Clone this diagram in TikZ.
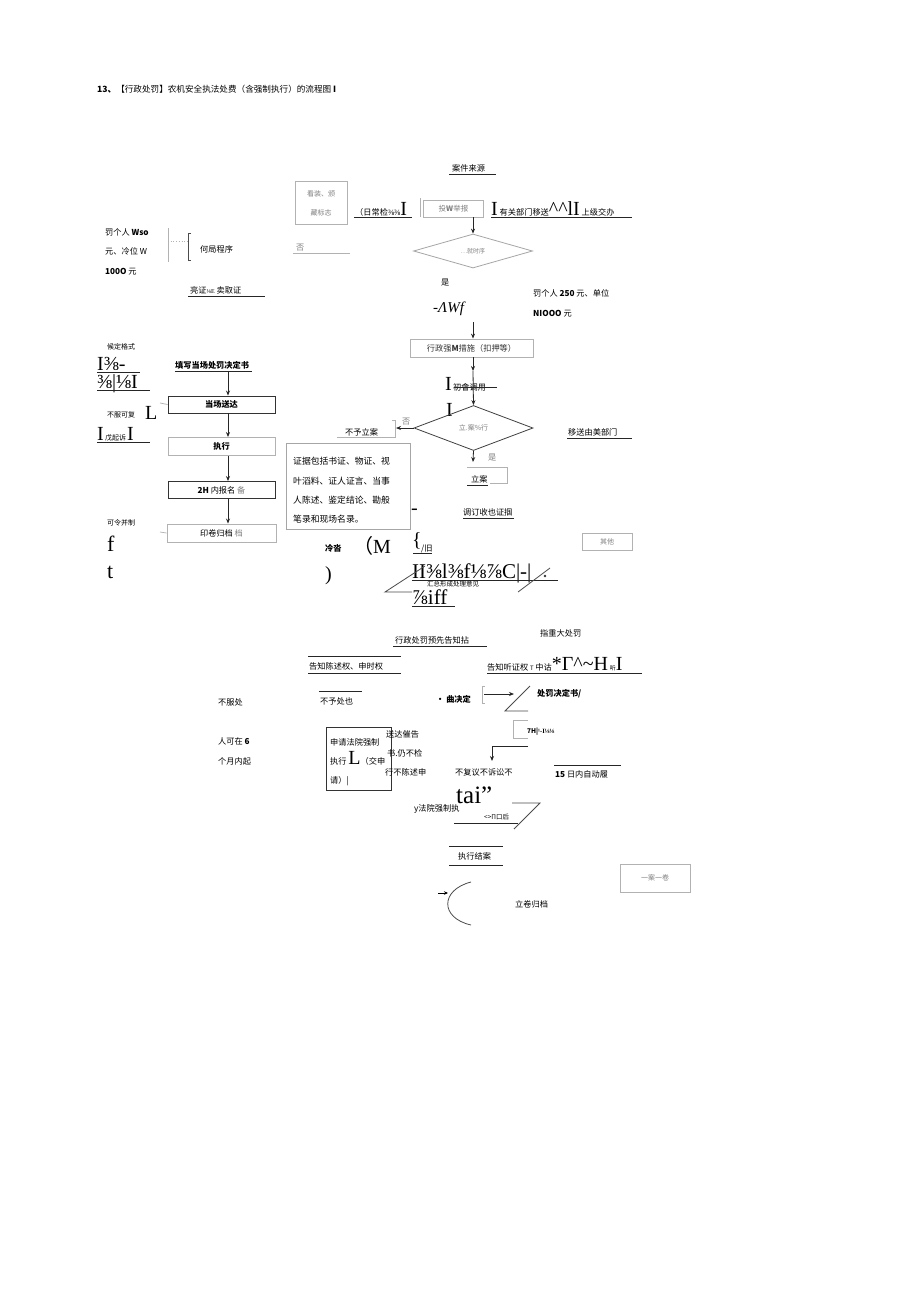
\documentclass[tikz,border=0pt]{standalone}
\usepackage{fontspec}
\setmainfont{Noto Sans CJK SC}
\newfontfamily\ser{Liberation Serif}
\newfontfamily\cjk{Noto Sans CJK SC}
\usetikzlibrary{shapes.geometric,arrows.meta}
\tikzset{
  txt/.style={anchor=base west,inner sep=0pt,font=\fontsize{8.2}{10}\selectfont},
  etxt/.style={anchor=base west,inner sep=0pt,font=\fontsize{8.8}{10}\selectfont},
  stxt/.style={anchor=base west,inner sep=0pt,font=\fontsize{7}{9}\selectfont},
  btxt/.style={anchor=base west,inner sep=0pt,font=\fontsize{8.2}{10}\selectfont\bfseries},
  big/.style={anchor=base west,inner sep=0pt,font=\fontsize{20}{22}\selectfont\ser},
  gbox/.style={draw=gray!60,line width=0.8pt,inner sep=0pt,font=\fontsize{7.5}{10}\selectfont},
  kbox/.style={draw=black!80,line width=0.9pt,inner sep=0pt,font=\fontsize{8.2}{10}\selectfont\bfseries},
  arr/.style={-{Stealth[length=5pt,width=4pt]},line width=0.8pt,black!85},
  uline/.style={line width=0.7pt,black!85},
  gline/.style={line width=0.7pt,gray!60},
}
\newcommand{\bg}[1]{{\fontsize{20}{20}\ser #1}}
\begin{document}
\begin{tikzpicture}[x=1pt,y=-1pt]
\useasboundingbox[fill=white] (0,0) rectangle (920,1301);

% title
\node[txt,font=\fontsize{8.6}{10}\selectfont] (title) at (97,92.5) {\textbf{13、}【行政处罚】农机安全执法处费（含强制执行）的流程图\textbf{ I}};

% top row
\node[txt] (src) at (452,171.5) {案件来源};
\draw[uline] (449,174) -- (496,174);
\node[gbox,minimum width=52,minimum height=43,align=center,text=gray,font=\fontsize{7}{19}\selectfont] (sign) at (321,203) {看装、颁\\藏标志};
\node[txt] (daily) at (355,215) {（日常检{\ser ⅜⅜}\bg{I}};
\draw[uline] (354,217) -- (412,217);
\draw[gline] (420,198) -- (420,217);
\node[gbox,minimum width=60,minimum height=17,text=gray] (tb) at (453.5,208.5) {投\textbf{W}举报};
\node[txt] (yg) at (491,215) {\bg{I}\ 有关部门移送\bg{\textasciicircum\textasciicircum lI}\ 上级交办};
\draw[uline] (491,217) -- (632,217);

\node[diamond,draw=gray!70,line width=0.8pt,minimum width=119,minimum height=34,inner sep=0pt,text=gray,font=\fontsize{6}{7}\selectfont] (d1) at (473,251) {…就时序};
\draw[arr] (tb.south -| d1.north) -- (d1.north);

\node[txt,text=gray] (fou1) at (296,250) {否};
\draw[gline] (293,253) -- (350,253);

\node[txt] (fa1) at (105,235.5) {罚个人 \textbf{Wso}};
\node[txt] (fa2) at (105,254.5) {元、冷位 W};
\node[txt] (fa3) at (105,274.5) {\textbf{100O} 元};
\draw[gline] (168,228) -- (168,262);
\draw[gline,dotted] (168,241) -- (188,241);
\draw[line width=0.9pt,black!70] (191,233) -- (188,233) -- (188,260) -- (191,260);
\node[txt] (hj) at (200,252) {何局程序};
\node[txt] (lz) at (190,293) {亮证{\fontsize{6}{7}\selectfont\ser ⅛E} 卖取证};
\draw[uline] (188,296) -- (265,296);

\node[txt] (shi1) at (441,285.5) {是};
\node[anchor=base west,inner sep=0pt,font=\fontsize{15}{16}\selectfont\ser\itshape] (aw) at (433,312) {-ΛWf};
\node[txt] (fa4) at (533,296.5) {罚个人 \textbf{250} 元、单位};
\node[txt] (fa5) at (533,316.5) {\textbf{NIOOO} 元};

\coordinate (c1) at (473,322);
\node[gbox,minimum width=123,minimum height=18,font=\fontsize{8.2}{10}\selectfont,text=black!80] (qz) at (471.5,348) {行政强\textbf{M}措施（扣押等）};
\draw[arr] (c1) -- (c1 |- qz.north);
\coordinate (c2) at (473,371);
\draw[arr] (qz.south -| c2) -- (c2);
\node[txt] (cs) at (445,390) {\bg{I}\,初會调用};
\draw[uline] (456,387) -- (497,387);
\node[big] (bi2) at (446,416) {I};

\node[diamond,draw=black!75,line width=0.8pt,minimum width=119,minimum height=45,inner sep=0pt,text=gray,font=\fontsize{7}{8}\selectfont] (d2) at (473.5,428) {立.案\%行};
\draw[arr] (c2) -- (d2.north);
\coordinate (c3) at (396,428);
\draw[arr] (d2.west) -- (c3);
\node[txt,text=gray] (fou2) at (402,424) {否};
\draw[gline] (392,420) -- (395,420) -- (395,437) -- (337,437);
\node[txt] (bylz) at (345,435.5) {不予立案};
\node[txt] (ys) at (568,435.5) {移送由美部门};
\draw[uline] (567,438) -- (632,438);

\coordinate (c4) at (473,462);
\draw[arr] (d2.south) -- (c4);
\node[txt,text=gray] (shi2) at (488,460) {是};
\draw[gline] (467,467) -- (507,467) -- (507,483) -- (490,483);
\node[txt] (la) at (471,482) {立案};
\draw[uline] (467,485) -- (488,485);

% evidence box
\node[draw=gray!70,line width=0.8pt,minimum width=124,minimum height=86,inner sep=0pt] (eb) at (348,486) {};
\node[etxt] (e1) at (293,464.5) {证据包括书证、物证、视};
\node[etxt] (e2) at (293,484) {叶滔料、证人证言、当事};
\node[etxt] (e3) at (293,503.5) {人陈述、鉴定结论、勘般};
\node[etxt] (e4) at (293,522.5) {笔录和现场名录。};

\node[big] (dash) at (411,514) {-};
\node[txt] (dc) at (463,515.5) {调订收也证掴};
\draw[uline] (463,518) -- (514,518);

\node[big] (brace) at (412,546) {\{};
\node[txt] (jiu) at (421,551) {/旧};
\draw[uline] (413,553) -- (432,553);
\node[btxt] (lc) at (325,551.5) {冷沓};
\node[big] (pm) at (353,553) {{\cjk （}M};
\node[big] (rp) at (325,580) {)};
\node[anchor=base west,inner sep=0pt,font=\fontsize{21}{22}\selectfont\ser] (garb) at (412,578) {II⅜l⅜f⅛⅞C|-|};
\draw[uline] (412,580) -- (558,580);
\node[anchor=base west,inner sep=0pt,font=\fontsize{6.5}{7}\selectfont] (hz) at (427,586) {汇总形成处理意见};
\node[anchor=base west,inner sep=0pt,font=\fontsize{21}{22}\selectfont\ser] (iff) at (412,604) {⅞iff};
\draw[uline] (412,606) -- (455,606);
\draw[line width=0.8pt,black!70] (425,566) -- (385,592) -- (412,592);
\draw[line width=0.8pt,black!70] (518,592) -- (550,568);
\fill[black!80] (545,576) circle (1.3);
\node[gbox,minimum width=50,minimum height=17,text=gray,font=\fontsize{7}{8}\selectfont] (qt) at (607,541.5) {其他};

% left column
\node[stxt] (hd) at (107,349.5) {候定格式};
\node[big] (g1) at (97,370) {I⅜-};
\draw[uline] (97,372) -- (140,372);
\node[big] (g2) at (97,388) {⅜|⅛I};
\draw[uline] (97,390) -- (150,390);
\node[stxt] (bf) at (107,417.5) {不服可复};
\node[big] (gL) at (145,419) {L};
\node[stxt] (qs) at (97,440) {\bg{I}\,戊起诉\,\bg{I}};
\draw[uline] (97,442) -- (150,442);
\node[stxt] (kl) at (107,525.5) {可令并制};
\node[anchor=base west,inner sep=0pt,font=\fontsize{22}{22}\selectfont\ser] (gf) at (107,551) {f};
\node[anchor=base west,inner sep=0pt,font=\fontsize{22}{22}\selectfont\ser] (gt) at (107,578) {t};

\node[btxt] (tx) at (175,368.5) {填写当场处罚决定书};
\draw[uline] (175,371) -- (252,371);
\coordinate (c5) at (228,372);
\node[kbox,minimum width=107,minimum height=17] (b1) at (221.5,404.5) {当场送达};
\node[kbox,draw=gray!60,minimum width=107,minimum height=18] (b2) at (221.5,446.5) {执行};
\node[kbox,minimum width=107,minimum height=17,font=\fontsize{8.2}{10}\selectfont] (b3) at (221.5,490) {\textbf{2H} 内报名 {\color{gray}备}};
\node[kbox,draw=gray!60,minimum width=109,minimum height=18,font=\fontsize{8.2}{10}\selectfont] (b4) at (221.5,533) {印卷归档 {\color{gray}档}};
\draw[arr] (c5) -- (c5 |- b1.north);
\draw[arr] (c5 |- b1.south) -- (c5 |- b2.north);
\draw[arr] (c5 |- b2.south) -- (c5 |- b3.north);
\draw[arr] (c5 |- b3.south) -- (c5 |- b4.north);
\draw[gline] (160,403) -- (b1.west);
\draw[gline] (160,532) -- (b4.west);

% notice section
\node[txt] (yx) at (395,643.5) {行政处罚预先告知拈};
\draw[uline] (393,646) -- (487,646);
\node[txt] (zd) at (540,636.5) {指重大处罚};
\node[txt] (gz1) at (309,669.5) {告知陈述权、申时权};
\draw[uline] (308,656) -- (401,656);
\draw[uline] (308,673) -- (401,673);
\node[txt] (gz2) at (487,670) {告知听证权 {\fontsize{6}{7}\selectfont T} 中诂\bg{*Γ\textasciicircum\textasciitilde H}\ {\fontsize{6}{7}\selectfont 听}\bg{I}};
\draw[uline] (487,673) -- (642,673);

\node[txt] (bfc) at (218,705.5) {不服处};
\node[txt] (byc) at (320,704.5) {不予处也};
\draw[uline] (319,691) -- (362,691);
\node[btxt] (qd) at (436,702.5) {· 曲决定};
\draw[gline] (485,686) -- (482,686) -- (482,703) -- (485,703);
\coordinate (c6) at (484,694);
\coordinate (c7) at (514,694);
\draw[arr] (c6) -- (c7);
\draw[line width=0.8pt,black!70] (530,686) -- (505,711) -- (528,711);
\node[btxt] (cfs) at (537,696.5) {处罚决定书/};
\draw[gline] (528,720) -- (513,720) -- (513,738) -- (528,738);
\node[anchor=base west,inner sep=0pt,font=\fontsize{6.5}{7}\selectfont\bfseries] (h7) at (527,733) {7H|{\ser ¹-I⅛⅛}};
\coordinate (c8) at (528,746);
\coordinate (c9) at (492,761);
\draw[arr] (c8) -- (c9 |- c8) -- (c9);

\node[txt] (rk) at (218,744.5) {人可在 \textbf{6}};
\node[txt] (gy) at (218,764.5) {个月内起};
\node[draw=black!80,line width=0.8pt,minimum width=65,minimum height=63,inner sep=0pt] (sq) at (358.5,758.5) {};
\node[txt] (sq1) at (330,745.5) {申请法院强制};
\node[txt] (sq2) at (330,764.5) {执行 \bg{L}（交申};
\node[txt] (sq3) at (330,783) {请）|};
\node[txt] (sd1) at (386,737.5) {送达催告};
\node[txt] (sd2) at (387,756.5) {书.仍不检};
\node[txt] (sd3) at (385,775.5) {行不陈述申};
\node[txt] (bfy) at (455,775.5) {不复议不诉讼不};
\node[txt] (r15) at (555,777.5) {\textbf{15} 日内自动履};
\draw[uline] (554,765) -- (621,765);
\node[anchor=base west,inner sep=0pt,font=\fontsize{25}{26}\selectfont\ser] (tai) at (456,803) {tai”};
\node[txt] (fy) at (414,811.5) {\textit{y}法院强制执};
\node[anchor=base west,inner sep=0pt,font=\fontsize{6.5}{7}\selectfont] (kh) at (484,819) {<>Π口后};
\draw[uline] (454,823) -- (518,823);
\draw[line width=0.8pt,black!70] (512,803) -- (540,803) -- (514,829);

\node[txt] (ja) at (458,859.5) {执行结案};
\draw[uline] (449,846) -- (503,846);
\draw[uline] (449,865) -- (503,865);
\coordinate (a1) at (471,882);
\coordinate (a2) at (471,925);
\draw[line width=0.8pt,black!70] (a1) .. controls (440,890) and (440,918) .. (a2);
\coordinate (c10) at (438,893);
\coordinate (c11) at (448,893);
\draw[-{Stealth[length=4pt,width=3.5pt]},line width=0.7pt] (c10) -- (c11);
\node[txt] (ljgd) at (515,907.5) {立卷归档};
\node[gbox,minimum width=70,minimum height=28,text=gray,font=\fontsize{7}{8}\selectfont] (yy) at (655,878) {一案一卷};
\end{tikzpicture}
\end{document}
